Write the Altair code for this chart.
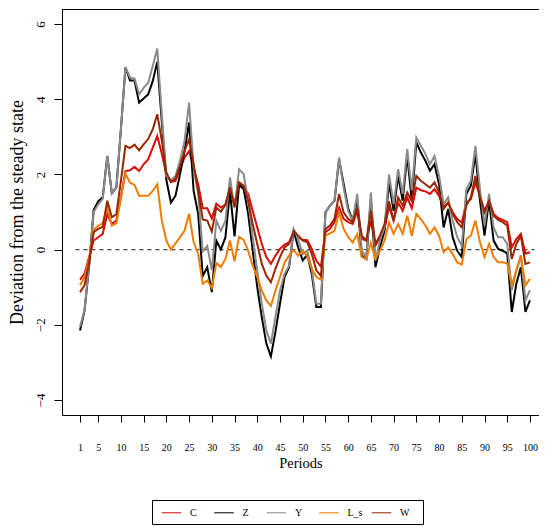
import altair as alt
import pandas as pd

periods = list(range(1, 101))

C = [-0.8, -0.64, -0.2, 0.24, 0.33, 0.42, 0.94, 0.68, 0.77, 1.39,
     2.09, 2.11, 2.2, 2.09, 2.27, 2.4, 2.71, 3.02, 2.55, 2.0,
     1.8, 1.83, 2.14, 2.45, 2.62, 2.18, 1.74, 1.1, 1.1, 0.83,
     1.22, 1.12, 1.2, 1.63, 1.23, 1.75, 1.65, 1.48, 1.03, 0.59,
     0.15, -0.2, -0.38, -0.16, 0.02, 0.13, 0.19, 0.46, 0.33, 0.26,
     0.25, 0.02, -0.3, -0.45, 0.46, 0.55, 0.73, 1.12, 0.82, 0.73,
     0.68, 1.03, 0.28, 0.24, 0.77, 0.11, 0.33, 0.55, 1.15, 0.77,
     1.25, 1.03, 1.39, 1.1, 1.65, 1.58, 1.55, 1.48, 1.61, 1.43,
     1.14, 1.25, 0.99, 0.81, 0.72, 1.25, 1.34, 1.79, 1.43, 1.03,
     1.3, 0.95, 0.84, 0.79, 0.73, 0.06, 0.28, 0.42, -0.11, -0.07]

Z = [-2.15, -1.62, -0.45, 1.05, 1.28, 1.39, 2.49, 1.5, 1.65, 3.2,
     4.85, 4.5, 4.5, 3.91, 4.02, 4.13, 4.48, 5.0, 3.4, 1.85,
     1.25, 1.43, 2.0, 2.62, 3.38, 1.56, 0.95, -0.7, -0.47, -1.13,
     0.24, 0.0, 0.33, 1.55, 0.35, 1.72, 1.61, 0.95, -0.03, -1.0,
     -1.8, -2.5, -2.84, -2.19, -1.44, -0.73, -0.47, 0.5, 0.06, -0.29,
     -0.14, -0.65, -1.53, -1.53, 0.99, 1.17, 1.3, 2.4, 1.75, 1.1,
     0.77, 1.35, -0.16, -0.25, 1.35, -0.47, 0.06, 0.5, 1.78, 1.03,
     1.96, 1.3, 2.49, 1.3, 2.85, 2.58, 2.36, 2.1, 2.27, 1.74,
     0.59, 1.08, 0.33, -0.03, -0.2, 1.48, 1.7, 2.54, 1.3, 0.37,
     1.3, 0.24, 0.02, -0.03, -0.1, -1.66, -0.91, -0.47, -1.66, -1.35]

Y = [-2.05, -1.6, -0.4, 1.0, 1.2, 1.35, 2.49, 1.5, 1.65, 3.2,
     4.85, 4.58, 4.55, 4.13, 4.3, 4.44, 4.88, 5.35, 3.6, 1.95,
     1.85, 1.96, 2.36, 2.89, 3.91, 2.18, 1.48, -0.05, 0.1, -0.55,
     0.77, 0.5, 0.77, 1.92, 1.1, 2.14, 2.01, 1.3, 0.33, -0.56,
     -1.44, -2.15, -2.5, -1.8, -1.09, -0.65, -0.43, 0.55, 0.28, -0.12,
     -0.03, -0.51, -1.44, -1.44, 0.99, 1.17, 1.3, 2.45, 1.65, 1.03,
     0.77, 1.48, -0.03, -0.2, 1.52, -0.29, 0.24, 0.59, 2.0, 1.21,
     2.14, 1.48, 2.67, 1.57, 2.98, 2.76, 2.54, 2.27, 2.49, 1.96,
     1.21, 1.39, 0.77, 0.33, 0.1, 1.61, 1.83, 2.76, 1.61, 0.64,
     1.48, 0.59, 0.33, 0.33, 0.15, -1.08, -0.56, -0.16, -1.35, -1.08]

L_s = [-0.95, -0.73, -0.25, 0.52, 0.64, 0.7, 1.12, 0.64, 0.7, 1.39,
       2.02, 1.78, 1.72, 1.43, 1.43, 1.43, 1.56, 1.74, 0.77, 0.24,
       0.0, 0.16, 0.33, 0.5, 0.95, 0.2, -0.11, -0.91, -0.82, -1.02,
       -0.36, -0.46, -0.25, 0.24, -0.31, 0.34, 0.26, -0.03, -0.43, -0.73,
       -1.09, -1.35, -1.5, -1.09, -0.73, -0.34, -0.16, -0.01, -0.16, -0.03,
       -0.18, -0.51, -0.73, -0.8, 0.37, 0.43, 0.5, 0.99, 0.55, 0.33,
       0.19, 0.41, -0.2, -0.25, 0.19, -0.25, -0.03, 0.24, 0.72, 0.42,
       0.68, 0.42, 0.9, 0.37, 0.95, 0.81, 0.64, 0.42, 0.59, 0.37,
       -0.07, 0.06, -0.12, -0.34, -0.4, 0.28, 0.37, 0.77, 0.2, -0.2,
       0.15, -0.2, -0.34, -0.34, -0.37, -0.95, -0.56, -0.16, -0.95, -0.78]

W = [-1.13, -0.95, -0.35, 0.46, 0.55, 0.6, 1.3, 0.86, 0.94, 1.83,
     2.76, 2.7, 2.79, 2.64, 2.8, 2.94, 3.2, 3.6, 2.9, 2.05,
     1.8, 1.88, 2.23, 2.62, 2.93, 2.27, 1.56, 0.8, 0.77, 0.48,
     1.12, 1.01, 1.19, 1.65, 1.14, 1.79, 1.7, 1.3, 0.68, 0.15,
     -0.38, -0.69, -0.87, -0.51, -0.2, 0.06, 0.15, 0.5, 0.37, 0.24,
     0.2, -0.12, -0.55, -0.7, 0.55, 0.64, 0.82, 1.48, 0.99, 0.82,
     0.73, 1.12, 0.37, 0.24, 1.03, 0.15, 0.37, 0.68, 1.28, 0.77,
     1.39, 1.17, 1.52, 1.3, 1.96, 1.83, 1.74, 1.65, 1.79, 1.52,
     1.08, 1.25, 0.95, 0.73, 0.59, 1.17, 1.39, 1.96, 1.39, 0.99,
     1.3, 0.9, 0.79, 0.73, 0.64, -0.25, 0.15, 0.37, -0.38, -0.34]

series_names = ["C", "Z", "Y", "L_s", "W"]
series_colors = ["#dd0a0a", "#000000", "#8a8a8a", "#f07c00", "#9a2600"]
x_ticks = [1] + list(range(5, 101, 5))
y_ticks = [-4, -2, 0, 2, 4, 6]

rows = []
for name, vals in zip(series_names, [C, Z, Y, L_s, W]):
    for t, v in zip(periods, vals):
        rows.append({"t": t, "value": v, "series": name})
df = pd.DataFrame(rows)

FONT = "Liberation Serif"
W_PX, H_PX = 477, 406

xscale = alt.Scale(domain=[-2.96, 101.99], nice=False, zero=False)
yscale = alt.Scale(domain=[-4.4, 6.4], nice=False, zero=False)

x_axis = alt.Axis(values=x_ticks, title="Periods", grid=False,
                  tickSize=7, labelPadding=20, labelFontSize=10,
                  labelFont=FONT, titleFont=FONT, titleFontSize=14.5,
                  titleFontWeight="normal", titleY=48,
                  titleBaseline="middle", domainColor="black",
                  tickColor="black", labelColor="black",
                  titleColor="black", labelFlush=False,
                  labelOverlap=False)
y_axis = alt.Axis(values=y_ticks, title="Deviation from the steady state",
                  grid=False, tickSize=8, labelPadding=14,
                  labelAngle=270, labelAlign="center",
                  labelBaseline="middle", labelFontSize=13,
                  labelFont=FONT, titleFont=FONT, titleFontSize=18,
                  titleFontWeight="normal", titleAngle=270,
                  titleX=-45, titleY=H_PX / 2, titleAlign="center",
                  titleBaseline="middle", domainColor="black",
                  tickColor="black", labelColor="black",
                  titleColor="black", labelFlush=False,
                  labelOverlap=False)

lines = alt.Chart(df).mark_line(strokeWidth=2, clip=True).encode(
    x=alt.X("t:Q", scale=xscale, axis=x_axis),
    y=alt.Y("value:Q", scale=yscale, axis=y_axis),
    color=alt.Color("series:N",
                    scale=alt.Scale(domain=series_names, range=series_colors),
                    sort=series_names,
                    legend=alt.Legend(title=None, orient="none", legendX=99,
                                      legendY=493, direction="horizontal",
                                      columns=5, gridAlign="all",
                                      symbolType="stroke", symbolSize=380,
                                      symbolStrokeWidth=1.2, symbolOpacity=0.85,
                                      labelFont=FONT, labelFontSize=10,
                                      labelColor="black", labelOffset=8,
                                      columnPadding=6.5, padding=0)),
    order=alt.Order("t:Q"),
)

zero_df = pd.DataFrame({"x": [0], "x2": [101], "y": [0]})
zero_line = alt.Chart(zero_df).mark_rule(
    color="#444444", strokeWidth=1.3, strokeDash=[4, 4]
).encode(x=alt.X("x:Q", scale=xscale, axis=x_axis), x2="x2:Q",
         y=alt.Y("y:Q", scale=yscale, axis=y_axis))

top_border = alt.Chart(zero_df).mark_rule(color="black", strokeWidth=1).encode(
    x=alt.value(0), x2=alt.value(W_PX), y=alt.value(0.5))

legend_box = alt.Chart(zero_df).mark_rect(
    fill="white", fillOpacity=0, stroke="black", strokeWidth=1
).encode(x=alt.value(90.5), x2=alt.value(361.5),
         y=alt.value(491.5), y2=alt.value(515.5))

chart = alt.layer(zero_line, lines, top_border, legend_box).properties(
    width=W_PX, height=H_PX,
    autosize=alt.AutoSizeParams(type="none"),
    padding={"left": 54, "top": 1, "right": 0, "bottom": 112},
).configure_view(stroke=None)

chart.save("out.html", embed_options={"renderer": "svg", "actions": False})
